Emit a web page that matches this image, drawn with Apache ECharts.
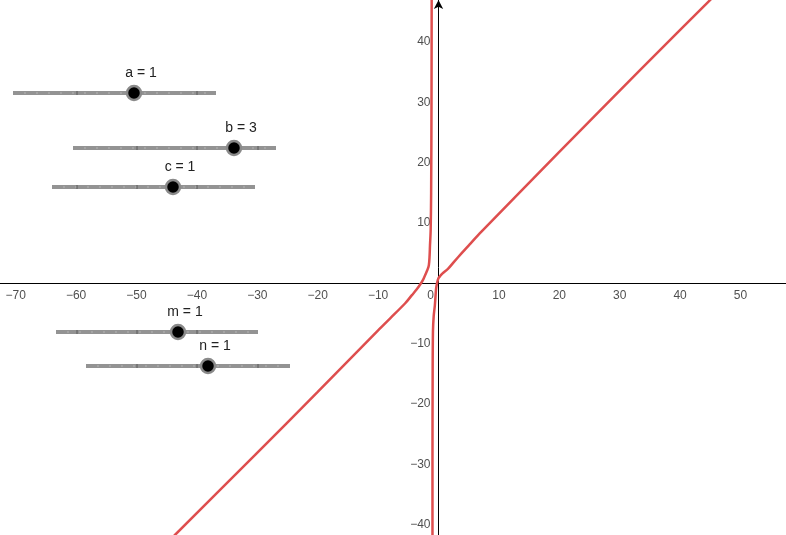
<!DOCTYPE html>
<html>
<head>
<meta charset="utf-8">
<script src="https://cdn.jsdelivr.net/npm/echarts@6/dist/echarts.min.js"></script>
<style>
  html, body { margin: 0; padding: 0; background: #fff; }
  #chart { width: 786px; height: 535px; }
</style>
</head>
<body>
<div id="chart"></div>
<script>
// axis ticks
var xTicks = [-70, -60, -50, -40, -30, -20, -10, 0, 10, 20, 30, 40, 50];
var yTicks = [-40, -30, -20, -10, 10, 20, 30, 40];

// left branch (comes up the diagonal, then turns up near x = -1)
var branch1X = [-46.0, -43.6, -30.4, -20.0, -10.0, -8.0, -5.55, -4.4, -3.6, -2.9, -2.5, -2.2, -1.85, -1.6, -1.48, -1.41, -1.3, -1.22, -1.16, -1.13];
var branch1Y = [-44.1, -41.7, -28.5, -18.0, -7.8, -5.8, -3.35, -1.96, -1.0, 0, 0.7, 1.37, 2.2, 3.0, 4.5, 6.3, 8.8, 15, 30, 48];

// right branch (comes up near x = -1, then goes off along the diagonal)
var branch2X = [-1.0, -1.0, -0.97, -0.92, -0.8, -0.6, -0.5, -0.4, -0.25, -0.03, 0.3, 0.63, 1.6, 2.6, 3.8, 5.2, 7.15, 20, 33.4, 48];
var branch2Y = [-44, -30, -15, -8, -5.5, -3.6, -2.2, -0.9, 0, 0.78, 1.25, 1.61, 2.44, 3.6, 4.95, 6.5, 8.6, 21.8, 35.4, 50];

// sliders
var sliderNames = ['a', 'b', 'c', 'm', 'n'];
var sliderValues = [1, 3, 1, 1, 1];

function pairs(xs, ys) {
  var out = [];
  for (var i = 0; i < xs.length; i++) out.push([xs[i], ys[i]]);
  return out;
}
function minus(v) {
  return v < 0 ? '\u2212' + (-v) : String(v);
}

// slider layout on screen: x1, x2, y, knob x, major ticks
var sliderLayout = [
  { x1: 13, x2: 216, y: 93, knob: 134, ticks: [77, 137, 197] },
  { x1: 73, x2: 276, y: 148, knob: 234, ticks: [137, 197, 258] },
  { x1: 52, x2: 255, y: 187, knob: 173, ticks: [77, 137, 197] },
  { x1: 56, x2: 258, y: 332, knob: 178, ticks: [77, 137, 197] },
  { x1: 86, x2: 290, y: 366, knob: 208, ticks: [137, 197, 258] }
];

var graphics = [];
for (var i = 0; i < sliderNames.length; i++) {
  var s = sliderLayout[i];
  graphics.push({
    type: 'line', z: 100,
    shape: { x1: s.x1, y1: s.y, x2: s.x2, y2: s.y },
    style: { stroke: '#939393', lineWidth: 4 }
  });
  for (var t = s.x1 + 12; t < s.x2 - 4; t += 12) {
    graphics.push({
      type: 'line', z: 101,
      shape: { x1: t, y1: s.y - 1, x2: t, y2: s.y + 1 },
      style: { stroke: '#b4b4b4', lineWidth: 1 }
    });
  }
  for (var k = 0; k < s.ticks.length; k++) {
    graphics.push({
      type: 'line', z: 101,
      shape: { x1: s.ticks[k], y1: s.y - 2, x2: s.ticks[k], y2: s.y + 2 },
      style: { stroke: '#5a5a5a', lineWidth: 1 }
    });
  }
  graphics.push({
    type: 'circle', z: 102,
    shape: { cx: s.knob, cy: s.y, r: 7 },
    style: { fill: '#000', stroke: '#8a8a8a', lineWidth: 2.5 }
  });
  graphics.push({
    type: 'text', z: 102,
    x: s.knob + 7, y: s.y - 20,
    style: {
      text: sliderNames[i] + ' = ' + sliderValues[i],
      fill: '#222', font: '14px "Liberation Sans", Arial, sans-serif',
      align: 'center', verticalAlign: 'middle'
    }
  });
}

// tick labels placed at the axes through the chart's own scales
var xLabelData = xTicks.map(function (v) {
  return {
    value: [v, 0],
    label: v === 0 ? { offset: [-8, 0] } : {}
  };
});
var yLabelData = yTicks.map(function (v) { return [0, v]; });

var labelFont = {
  show: true, color: '#222', fontSize: 12,
  fontFamily: '"Liberation Sans", Arial, sans-serif'
};

var myChart = echarts.init(document.getElementById('chart'));

var option = {
  animation: false,
  backgroundColor: '#fff',
  grid: { left: 0, right: 0, top: 0, bottom: 0, containLabel: false, outerBoundsMode: 'none' },
  xAxis: {
    type: 'value',
    min: -72.6,
    max: 57.53,
    axisLine: { onZero: true, lineStyle: { color: '#000', width: 1 } },
    axisTick: { show: false },
    axisLabel: { show: false },
    splitLine: { show: false }
  },
  yAxis: {
    type: 'value',
    min: -41.74,
    max: 46.98,
    axisLine: {
      onZero: true,
      symbol: ['none', 'arrow'], symbolSize: [7, 9],
      lineStyle: { color: '#000', width: 1 }
    },
    axisTick: { show: false },
    axisLabel: { show: false },
    splitLine: { show: false }
  },
  series: [
    {
      type: 'line', data: pairs(branch1X, branch1Y),
      showSymbol: false, smooth: 0.3, clip: true, z: 3,
      lineStyle: { color: '#de4e4e', width: 2.5 }
    },
    {
      type: 'line', data: pairs(branch2X, branch2Y),
      showSymbol: false, smooth: 0.3, clip: true, z: 3,
      lineStyle: { color: '#de4e4e', width: 2.5 }
    },
    {
      type: 'scatter', data: xLabelData, symbolSize: 0, silent: true, z: 2,
      label: Object.assign({ position: 'bottom', distance: 6, formatter: function (p) { return minus(p.value[0]); } }, labelFont)
    },
    {
      type: 'scatter', data: yLabelData, symbolSize: 0, silent: true, z: 2,
      label: Object.assign({ position: 'left', distance: 8, formatter: function (p) { return minus(p.value[1]); } }, labelFont)
    }
  ],
  graphic: graphics
};

myChart.setOption(option);
</script>
</body>
</html>
